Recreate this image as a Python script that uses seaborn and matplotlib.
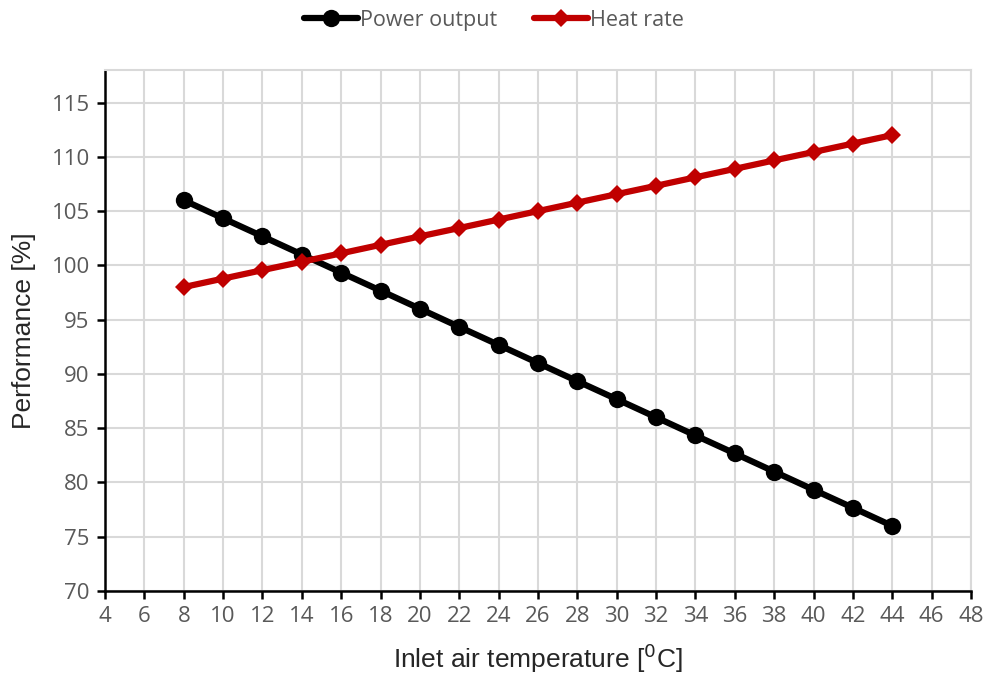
import matplotlib
matplotlib.use("Agg")
import matplotlib.pyplot as plt
import seaborn as sns
import pandas as pd
from matplotlib.lines import Line2D

temperature = [8, 10, 12, 14, 16, 18, 20, 22, 24, 26, 28, 30, 32, 34, 36, 38, 40, 42, 44]
power_output = [106.0, 104.33, 102.67, 101.0, 99.33, 97.67, 96.0, 94.33, 92.67, 91.0,
                89.33, 87.67, 86.0, 84.33, 82.67, 81.0, 79.33, 77.67, 76.0]
heat_rate = [98.0, 98.78, 99.56, 100.33, 101.11, 101.89, 102.67, 103.44, 104.22, 105.0,
             105.78, 106.56, 107.33, 108.11, 108.89, 109.67, 110.44, 111.22, 112.0]
series_names = ["Power output", "Heat rate"]
x_ticks = list(range(4, 49, 2))
y_ticks = list(range(70, 116, 5))

df = pd.concat([
    pd.DataFrame({"T": temperature, "val": power_output, "series": series_names[0]}),
    pd.DataFrame({"T": temperature, "val": heat_rate, "series": series_names[1]}),
])

sns.set_style("white")
plt.rcParams["font.family"] = ["Open Sans", "DejaVu Sans"]

fig = plt.figure(figsize=(9.88, 6.78), dpi=100)
ax = fig.add_axes([0.1063, 0.1283, 0.8765, 0.7685])

LW = 4.5
palette = {"Power output": "#000000", "Heat rate": "#C00000"}
markers = {"Power output": "o", "Heat rate": "D"}
sns.lineplot(data=df, x="T", y="val", hue="series", style="series",
             palette=palette, markers=markers, dashes=False, linewidth=LW,
             markersize=12.5, markeredgewidth=0, ax=ax, legend=False, zorder=3)
for line in ax.lines:
    if line.get_marker() == "D":
        line.set_markersize(9.5)

ax.set_xlim(4, 48)
ax.set_ylim(70, 118)
ax.set_xticks(x_ticks)
ax.set_yticks(y_ticks)
ax.grid(True, color="#D9D9D9", linewidth=1.5)
ax.set_axisbelow(True)

for s in ["top", "right"]:
    ax.spines[s].set_color("#D9D9D9")
    ax.spines[s].set_linewidth(1.5)
for s in ["left", "bottom"]:
    ax.spines[s].set_color("black")
    ax.spines[s].set_linewidth(1.8)

ax.tick_params(axis="both", which="major", direction="out", length=6, width=1.8,
               color="black", labelcolor="#595959", labelsize=16, pad=5)
ax.tick_params(axis="x", bottom=True)
ax.tick_params(axis="y", left=True)

ax.set_xlabel("Inlet air temperature [$^{0}$C]", fontsize=19, family=["Liberation Sans"], labelpad=10)
ax.set_ylabel("Performance [%]", fontsize=19, family=["Liberation Sans"], labelpad=11)

handles = [Line2D([], [], color="#000000", marker="o", linewidth=LW, markersize=12.5, markeredgewidth=0),
           Line2D([], [], color="#C00000", marker="D", linewidth=LW, markersize=9.5, markeredgewidth=0)]
leg = fig.legend(handles, series_names, loc="upper center", bbox_to_anchor=(0.5, 1.014),
                 ncol=2, frameon=False, fontsize=15.5, handlelength=2.5, handletextpad=0.1,
                 columnspacing=1.7)
for t in leg.get_texts():
    t.set_color("#595959")

fig.savefig("out.png", dpi=100)
